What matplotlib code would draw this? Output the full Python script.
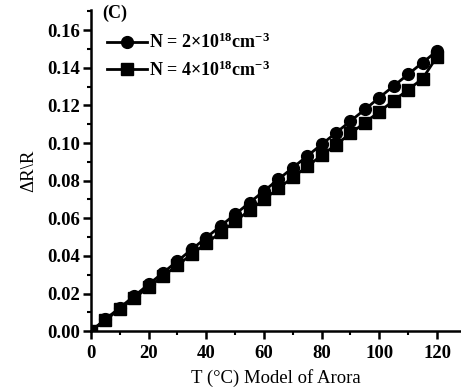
import matplotlib
matplotlib.use("Agg")
import matplotlib.pyplot as plt
from matplotlib.ticker import MultipleLocator

plt.rcParams['font.family'] = ['Liberation Serif', 'DejaVu Serif']
plt.rcParams['font.weight'] = 'bold'
plt.rcParams['mathtext.fontset'] = 'custom'
plt.rcParams['mathtext.rm'] = 'Liberation Serif:bold'
plt.rcParams['mathtext.bf'] = 'Liberation Serif:bold'
plt.rcParams['mathtext.default'] = 'rm'

# temperature in deg C, every 5 degrees
temps = [0, 5, 10, 15, 20, 25, 30, 35, 40, 45, 50, 55, 60,
         65, 70, 75, 80, 85, 90, 95, 100, 105, 110, 115, 120]
# N = 2e18 cm^-3
dr_n2 = [0.0, 0.0062, 0.0124, 0.0186, 0.0248, 0.0310, 0.0372, 0.0435, 0.0497,
         0.0559, 0.0621, 0.0683, 0.0745, 0.0807, 0.0869, 0.0931, 0.0993, 0.1055,
         0.1117, 0.1179, 0.1242, 0.1304, 0.1366, 0.1428, 0.1490]
# N = 4e18 cm^-3
dr_n4 = [0.0, 0.0058, 0.0117, 0.0175, 0.0233, 0.0292, 0.0350, 0.0409, 0.0467,
         0.0525, 0.0584, 0.0642, 0.0700, 0.0759, 0.0817, 0.0876, 0.0934, 0.0992,
         0.1051, 0.1109, 0.1167, 0.1226, 0.1284, 0.1343, 0.1460]

fig = plt.figure(figsize=(4.61, 3.9), dpi=100)
ax = fig.add_axes([0.197, 0.151, 0.803, 0.823])

ax.plot(temps, dr_n2, color='black', lw=2, marker='o', ms=8.5,
        label=r'N = 2$\times$10$^{18}$cm$^{-3}$')
ax.plot(temps, dr_n4, color='black', lw=2, marker='s', ms=8,
        label=r'N = 4$\times$10$^{18}$cm$^{-3}$')

ax.set_xlim(0, 128.3)
ax.set_ylim(0, 0.1707)
ax.xaxis.set_major_locator(MultipleLocator(20))
ax.xaxis.set_minor_locator(MultipleLocator(10))
ax.set_yticks([i * 0.02 for i in range(9)])
ax.set_yticklabels([f'{i * 0.02:.2f}' for i in range(9)])
ax.yaxis.set_minor_locator(MultipleLocator(0.01))

for side in ['top', 'right']:
    ax.spines[side].set_visible(False)
for side in ['left', 'bottom']:
    ax.spines[side].set_linewidth(1.8)
ax.tick_params(which='major', direction='out', length=6, width=1.8,
               labelsize=13.5)
ax.tick_params(axis='x', which='major', pad=4)
ax.tick_params(axis='y', which='major', pad=2)
ax.tick_params(which='minor', direction='out', length=3, width=1.5)
for lbl in ax.get_xticklabels() + ax.get_yticklabels():
    lbl.set_fontweight('bold')

ax.set_xlabel('T (°C) Model of Arora', fontsize=13.5)
ax.xaxis.set_label_coords(0.5, -0.118)
ax.set_ylabel('ΔR\\R', fontsize=13.5)
ax.yaxis.set_label_coords(-0.146, 0.5)

ax.text(0.032, 0.991, '(C)', transform=ax.transAxes, fontsize=13,
        fontweight='bold', va='center')
ax.legend(loc='upper left', bbox_to_anchor=(0.044, 0.93), frameon=False,
          fontsize=13, handlelength=2.2, handletextpad=0.1, labelspacing=0.45,
          borderaxespad=0, borderpad=0)

fig.savefig('out.png', dpi=100)
